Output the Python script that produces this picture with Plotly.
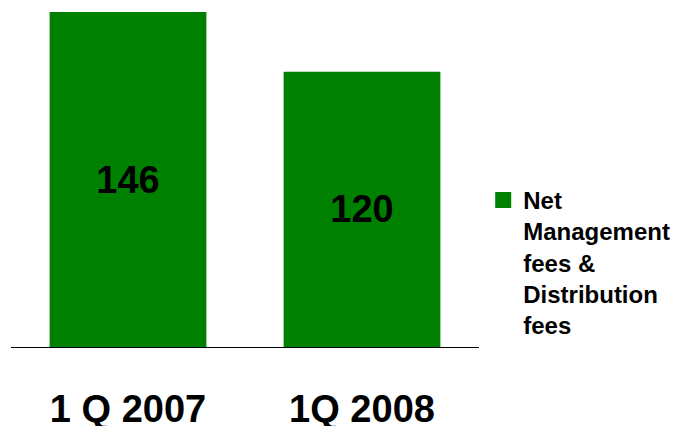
import plotly.graph_objects as go

# Quarterly fee income (EUR m)
quarters = ["1 Q 2007", "1Q 2008"]
fees = [146, 120]
series_name = "Net<br>Management<br>fees &<br>Distribution<br>fees"

GREEN = "#008000"
FONT = "Liberation Sans, Arial, sans-serif"

fig = go.Figure()
fig.add_trace(go.Bar(
    x=quarters,
    y=fees,
    name=series_name,
    marker=dict(color=GREEN, line=dict(width=0)),
    text=[str(v) for v in fees],
    textposition="inside",
    insidetextanchor="middle",
    textangle=0,
    textfont=dict(family=FONT, size=38, color="black", weight="bold"),
    showlegend=False,
))

# Legend entry with a larger square swatch for the series
fig.add_trace(go.Scatter(
    x=[None], y=[None],
    mode="markers",
    name=series_name,
    marker=dict(symbol="square", size=17, color=GREEN),
    showlegend=True,
    hoverinfo="skip",
))

fig.update_layout(
    width=690,
    height=426,
    margin=dict(l=11, r=211, t=12, b=79),
    paper_bgcolor="white",
    plot_bgcolor="white",
    bargap=0.33,
    font=dict(family=FONT, color="black"),
    showlegend=True,
    legend=dict(
        x=1.009, xanchor="left",
        y=0.505, yanchor="top",
        valign="top",
        font=dict(family=FONT, size=24, color="black", weight="bold"),
        bgcolor="rgba(0,0,0,0)",
        itemclick=False,
    ),
    xaxis=dict(
        showline=True, linecolor="black", linewidth=1,
        showgrid=False, zeroline=False, ticks="",
        tickfont=dict(family=FONT, size=38, color="black", weight="bold"),
        ticklabelstandoff=28,
        automargin=False,
    ),
    yaxis=dict(
        range=[0, 146],
        visible=False,
        showgrid=False, zeroline=False,
    ),
)

fig.write_html("out.html")
